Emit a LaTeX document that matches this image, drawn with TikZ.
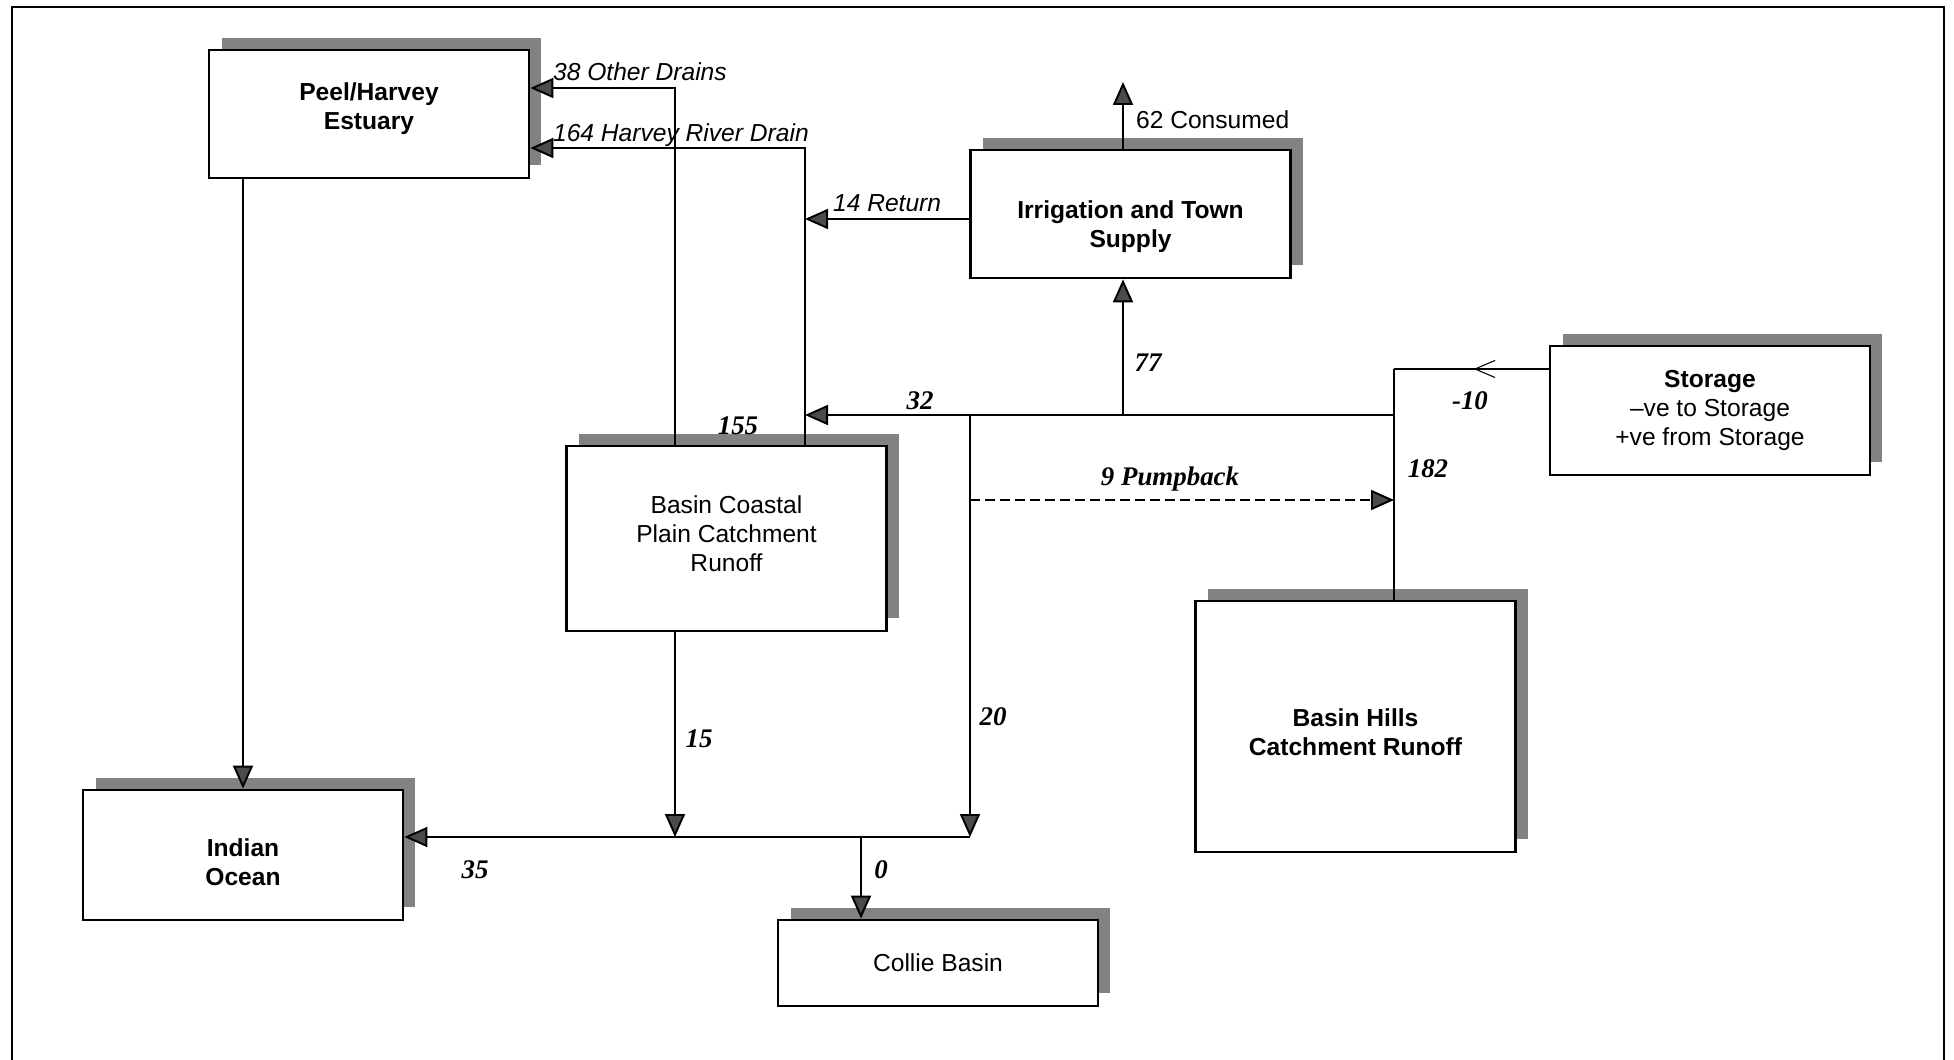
\documentclass[tikz,border=0pt]{standalone}
\usepackage{fontspec}
\setmainfont{Liberation Sans}
\newfontfamily\serifnum{Liberation Serif}
\usetikzlibrary{arrows.meta,shadows,decorations.markings}
\definecolor{shadowgray}{RGB}{130,130,130}
\definecolor{headgray} {RGB}{75,75,75}
\newcommand{\boxfont}{\fontsize{14}{16.5}\selectfont}
\tikzset{
  basin/.style={rectangle,draw=black,line width=1.6pt,fill=white,
                minimum width=6.4cm,minimum height=#1,
                drop shadow={shadow xshift=0.25cm,shadow yshift=0.25cm,
                             fill=shadowgray,opacity=1}},
  basin/.default=2.56cm,
  boxtext/.style={font=\boxfont,align=center,inner sep=0pt},
  strong/.style={font=\boxfont\bfseries},
  flow/.style={-{Triangle[length=4.6mm,width=4mm,fill=headgray]},line width=1.1pt},
  pump/.style={flow,dash pattern=on 2mm off 1mm},
  qty/.style={font=\fontsize{15.3}{17}\selectfont\serifnum\bfseries\itshape,inner sep=1pt},
  drain/.style={font=\boxfont\itshape,inner sep=1pt,anchor=base west},
}
\begin{document}
\begin{tikzpicture}[x=0.02cm,y=-0.02cm]
  \useasboundingbox (0,0) rectangle (1954,1060);
  \draw[line width=1pt] (12,1060) -- (12,7) -- (1944,7) -- (1944,1060);
  % boxes
  \node[basin]        (peel)    at (369,114)     {};
  \node[basin]        (irr)     at (1130.5,214)  {};
  \node[basin=2.58cm] (stor)    at (1710,410.5)  {};
  \node[basin=3.7cm]  (coastal) at (726.5,538.5) {};
  \node[basin=5.02cm] (hills)   at (1355.5,726.5){};
  \node[basin=2.6cm]  (indian)  at (243,855)     {};
  \node[basin=1.72cm] (collie)  at (938,963)     {};
  \node[boxtext,strong] (peel-t)    at ([yshift=0.1cm]peel)     {Peel/Harvey\\Estuary};
  \node[boxtext,strong] (irr-t)     at ([yshift=-0.25cm]irr)    {Irrigation and Town\\Supply};
  \node[boxtext]        (stor-t)    at (stor)                   {\textbf{Storage}\\–ve to Storage\\+ve from Storage};
  \node[boxtext]        (coastal-t) at ([yshift=0.1cm]coastal)  {Basin Coastal\\Plain Catchment\\Runoff};
  \node[boxtext,strong] (hills-t)   at ([yshift=-0.12cm]hills)  {Basin Hills\\Catchment Runoff};
  \node[boxtext,strong] (indian-t)  at ([yshift=-0.15cm]indian) {Indian\\Ocean};
  \node[boxtext]        (collie-t)  at (collie)                 {Collie Basin};
  % junctions
  \coordinate (od)    at (675,88);
  \coordinate (hd)    at (805,148);
  \coordinate (cons)  at (1123,82);
  \coordinate (jmain) at (1394,415);
  \coordinate (jstor) at (1394,369);
  \coordinate (jcoll) at (970,837);
  \coordinate (jzero) at (861,837);
  \coordinate (pb)    at (970,500);
  % flows
  \draw[flow] (indian.north |- peel.south) -- (indian.north);
  \draw[flow] (od |- coastal.north) -- (od) -- (od -| peel.east);
  \draw[flow] (hd |- coastal.north) -- (hd) -- (hd -| peel.east);
  \draw[flow] ([yshift=-1mm]irr.west) -- ([yshift=-1mm]irr.west -| hd);
  \draw[flow] (cons |- irr.north) -- (cons);
  \draw[flow] (cons |- jmain) -- (cons |- irr.south);
  \draw[flow] (jmain) -- (jmain -| hd);
  \draw[line width=1.1pt] (jstor) -- (jstor |- hills.north);
  \draw[line width=0.6pt,postaction={decorate},
        decoration={markings,mark=at position 1.5cm with
                    {\arrow{Straight Barb[length=4mm,width=3.4mm]}}}]
       (stor.west |- jstor) -- (jstor);
  \draw[pump] (pb) -- (pb -| jmain);
  \draw[flow] (jmain -| jcoll) -- (jcoll);
  \draw[flow] (od |- coastal.south) -- (od |- jcoll);
  \draw[flow] (jcoll) -- (jcoll -| indian.east);
  \draw[flow] (jzero) -- (jzero |- collie.north);
  % labels
  \node[drain] (l38)  at (551,81)  {38 Other Drains};
  \node[drain] (l164) at (551,142) {164 Harvey River Drain};
  \node[drain] (l14)  at (831,212) {14 Return};
  \node[font=\boxfont,inner sep=1pt,anchor=base west] (l62) at (1134,129) {62 Consumed};
  \node[qty] (q77)  at (1148,363) {77};
  \node[qty] (q32)  at (920,401)  {32};
  \node[qty] (q155) at (738,426)  {155};
  \node[qty] (q10)  at (1470,401) {-10};
  \node[qty] (q182) at (1428,469) {182};
  \node[qty] (qpb)  at (1170,479) {9 Pumpback};
  \node[qty] (q20)  at (993,717)  {20};
  \node[qty] (q15)  at (699,739)  {15};
  \node[qty] (q35)  at (475,870)  {35};
  \node[qty] (q0)   at (881,870)  {0};
\end{tikzpicture}
\end{document}
